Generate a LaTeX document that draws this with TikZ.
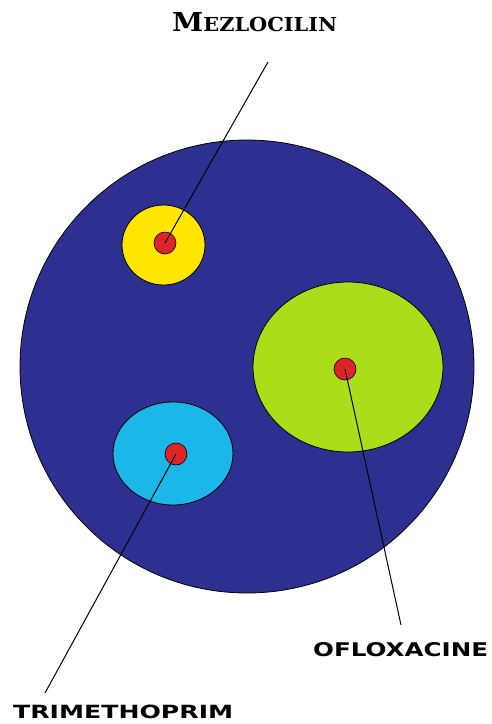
\documentclass[tikz,border=0pt]{standalone}
\usepackage{fontspec}
\usetikzlibrary{shapes.geometric}
\newfontfamily\labsans{DejaVu Sans}
\newfontfamily\labserif{DejaVu Serif}
\definecolor{plateblue}{RGB}{45,48,145}
\definecolor{zoneyellow}{RGB}{255,230,0}
\definecolor{zonecyan}{RGB}{27,183,232}
\definecolor{zonegreen}{RGB}{171,221,26}
\definecolor{dotred}{RGB}{222,36,40}
\begin{document}
\begin{tikzpicture}[x=1pt,y=-1pt,
  disc/.style={ellipse, draw=black, line width=0.8pt, inner sep=0pt},
  dotdisc/.style={circle, fill=dotred, draw=black, line width=0.6pt, minimum size=22pt, inner sep=0pt},
  lab/.style={inner sep=0pt, anchor=south west, text=black},
  pointer/.style={draw=black, line width=1pt}]
\useasboundingbox (0,0) rectangle (491,724);
\fill[white] (0,0) rectangle (491,724);
% plate and zones
\node[disc, fill=plateblue, minimum width=454pt, minimum height=453pt] (plate) at (247,366.5) {};
\node[disc, fill=zoneyellow, minimum width=83pt, minimum height=80pt] (yzone) at (163.5,245) {};
\node[disc, fill=zonecyan, minimum width=120pt, minimum height=103pt] (czone) at (173,453.5) {};
\node[disc, fill=zonegreen, minimum width=190pt, minimum height=170pt] (gzone) at (348,367) {};
% discs
\node[dotdisc] (ydot) at (165,243) {};
\node[dotdisc] (cdot) at (176,454) {};
\node[dotdisc] (gdot) at (345,369) {};
% labels
\node[lab] (lmez) at (172,32) {\resizebox{165pt}{19pt}{\labserif\bfseries M{\fontsize{7.4}{8}\selectfont EZLOCILIN}}};
\node[lab] (lofl) at (313,657) {\resizebox{175pt}{14pt}{\labsans\bfseries OFLOXACINE}};
\node[lab] (ltri) at (13,719) {\resizebox{220pt}{13.5pt}{\labsans\bfseries TRIMETHOPRIM}};
% pointer ends
\coordinate (emez) at (268,62);
\coordinate (eofl) at (401,625);
\coordinate (etri) at (45,693);
\draw[pointer] (emez) -- (ydot.center);
\draw[pointer] (eofl) -- (gdot.center);
\draw[pointer] (etri) -- (cdot.center);
\end{tikzpicture}
\end{document}
